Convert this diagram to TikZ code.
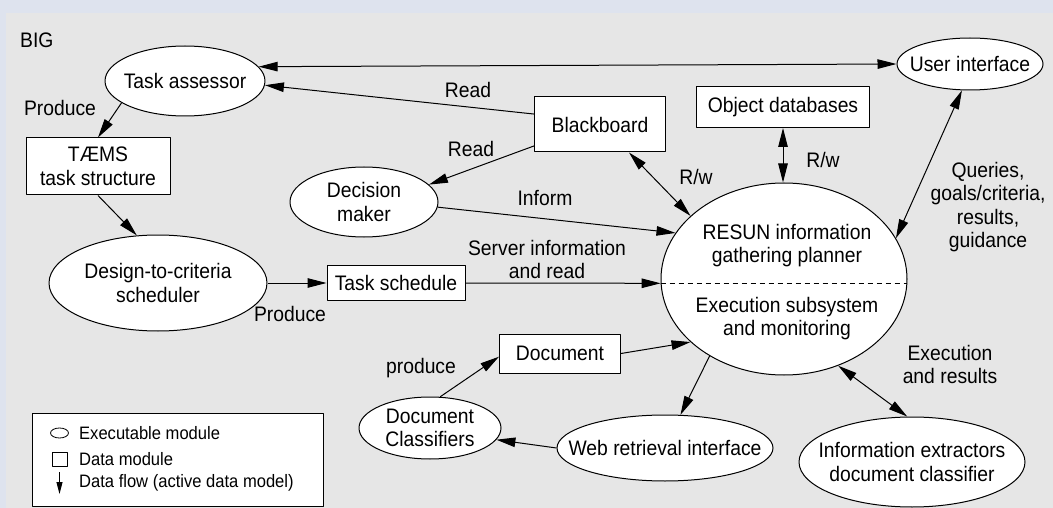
\documentclass[tikz,border=0pt]{standalone}
\usepackage{fontspec}
\setmainfont[FakeStretch=0.92]{Liberation Sans}
\usetikzlibrary{shapes.geometric,arrows.meta}
\definecolor{outerbg}{RGB}{222,227,238}
\definecolor{innerbg}{RGB}{230,230,230}
\begin{document}
\begin{tikzpicture}[x=1pt,y=-1pt,line join=round,>={Triangle[length=19pt,width=9.5pt]},font=\fontsize{21}{23.6}\selectfont]
	\tikzset{every node/.style={inner sep=0pt,align=center},
		exe/.style={ellipse,draw,fill=white,line width=1pt},
		dat/.style={rectangle,draw,fill=white,line width=1pt},
		flow/.style={line width=1pt}}
	\useasboundingbox (0,0) rectangle (1053,508);
	\fill[outerbg] (0,0) rectangle (1053,508);
	\fill[innerbg] (6,13) rectangle (1053,508);
	\node[anchor=west] (big) at (20,40) {BIG};
	\node[exe,minimum width=160pt,minimum height=70pt,label=center:Task assessor] (ta) at (185,81) {};
	\node[dat,minimum width=144pt,minimum height=57pt] (tm) at (98,166.5) {TÆMS\\task structure};
	\node[exe,minimum width=218pt,minimum height=96pt,label={center:Design-to-criteria\\scheduler}] (dc) at (158,283) {};
	\node[exe,minimum width=148pt,minimum height=70pt,label={center:Decision\\maker}] (dm) at (364,202) {};
	\node[dat,minimum width=131pt,minimum height=55pt] (bb) at (600,124.5) {Blackboard};
	\node[dat,minimum width=173pt,minimum height=41pt] (od) at (783,107) {Object databases};
	\node[exe,minimum width=146pt,minimum height=52pt,label=center:User interface] (ui) at (970,64) {};
	\node[dat,minimum width=138pt,minimum height=35pt] (ts) at (396,283) {Task schedule};
	\node[exe,minimum width=246pt,minimum height=192pt] (rs) at (784,279) {};
	\node (rsup) at (787,245.5) {RESUN information\\gathering planner};
	\node (rslo) at (787,318.5) {Execution subsystem\\and monitoring};
	\draw[flow,dash pattern=on 5pt off 4pt] (rs.182) -- (rs.-2);
	\node[dat,minimum width=121pt,minimum height=39pt] (doc) at (560,353.5) {Document};
	\node[exe,minimum width=142pt,minimum height=62pt,label={center:Document\\Classifiers}] (dcl) at (430,428) {};
	\node[exe,minimum width=216pt,minimum height=66pt,label=center:Web retrieval interface] (wr) at (665,448) {};
	\node[exe,minimum width=226pt,minimum height=90pt,label={center:Information extractors\\document classifier}] (ie) at (912,462) {};
	\node (lbprod) at (60,108) {Produce};
	\node (lbread) at (468,90) {Read};
	\node (lbreadb) at (471,149) {Read};
	\node (lbinf) at (545,198) {Inform};
	\node (lbserv) at (547,259.5) {Server information\\and read};
	\node (lbrwa) at (696,177) {R/w};
	\node (lbrwb) at (823,160) {R/w};
	\node (lbquer) at (988,207) {Queries,\\goals/criteria,\\results,\\guidance};
	\node (lbprodb) at (290,314) {Produce};
	\node (lbprodc) at (421,368) {produce};
	\node (lbexec) at (950,364.5) {Execution\\and results};
	\draw[flow,->] (ta.199) -- (tm.north);
	\draw[flow,->] (tm.south) -- (dc.114);
	\draw[flow,->] (dc.east) -- (ts.west);
	\draw[flow,->] (ts.east) -- (rs.182);
	\draw[flow,->] (bb.171) -- (ta.-3);
	\draw[flow,->] (bb.198) -- (dm.15);
	\draw[flow,->] (dm.-4) -- (rs.157);
	\draw[flow,<->] (bb.-44) -- (rs.146);
	\draw[flow,<->] (od.south) -- (od.south |- rs.north);
	\draw[flow,<->] (ta.11) -- (ui.west);
	\draw[flow,<->] (ui.253) -- (rs.20);
	\draw[flow,->] (doc.east) -- (rs.214);
	\draw[flow,->] (rs.226) -- (wr.65);
	\draw[flow,->] (wr.west) -- (dcl.-10);
	\draw[flow,->] (dcl.72) -- (doc.183);
	\draw[flow,<->] (rs.-58) -- (ie.96);
	\draw[fill=white,line width=0.8pt] (32,413) rectangle (323,506.5);
	\begin{scope}[font=\fontsize{18}{20}\selectfont]
		\draw[line width=0.8pt] (59.5,433) ellipse (9pt and 5pt);
		\draw[line width=0.8pt] (52,452) rectangle (67,466);
		\coordinate (lgtop) at (59.5,472);
		\coordinate (lgbot) at (59.5,494);
		\draw[line width=1pt,-{Triangle[length=12pt,width=6pt]}] (lgtop) -- (lgbot);
		\node[anchor=west] (lgexe) at (79,433) {Executable module};
		\node[anchor=west] (lgdat) at (79,459) {Data module};
		\node[anchor=west] (lgflow) at (79,483) {Data flow (active data model)};
	\end{scope}
\end{tikzpicture}
\end{document}
